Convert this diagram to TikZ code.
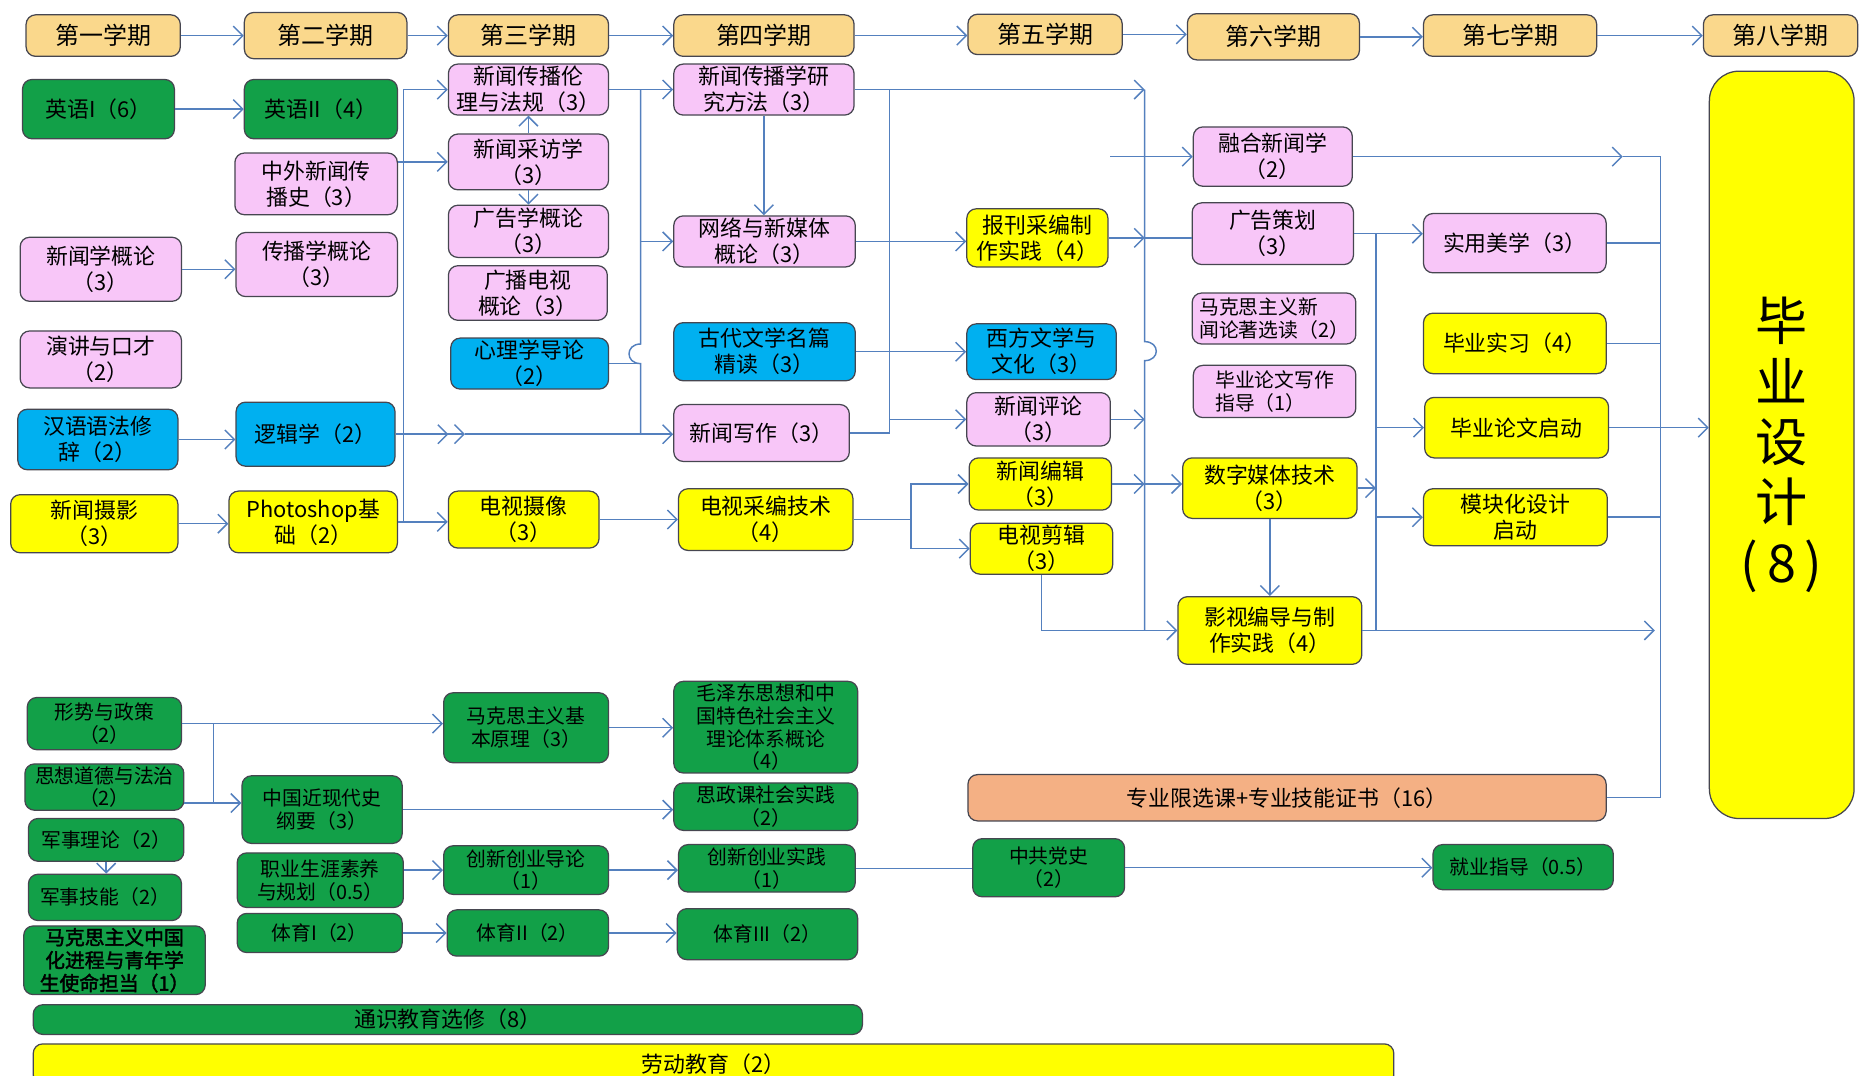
\documentclass[tikz,border=0pt]{standalone}
\usepackage{fontspec}
\setmainfont[AutoFakeBold=2]{Noto Sans CJK SC}
\usepackage{tikz}
\usetikzlibrary{arrows.meta}
\definecolor{semc}{RGB}{250,216,140}
\definecolor{pinkc}{RGB}{248,198,248}
\definecolor{greenc}{RGB}{18,160,72}
\definecolor{bluec}{RGB}{0,176,240}
\definecolor{yellowc}{RGB}{255,255,0}
\definecolor{orangec}{RGB}{244,176,132}
\definecolor{linec}{RGB}{84,128,190}
\definecolor{edgec}{RGB}{70,70,80}
\tikzset{>={Straight Barb[length=1.6mm,width=3.2mm]}}
\tikzset{
  box/.style={draw=edgec, line width=0.6pt, rounded corners=1.6mm, align=center, inner sep=1pt,
    font=\fontsize{10.5}{12.5}\selectfont},
  sem/.style={box, fill=semc, font=\fontsize{11.5}{13}\selectfont},
  pinkbox/.style={box, fill=pinkc},
  greenbox/.style={box, fill=greenc},
  bluebox/.style={box, fill=bluec},
  yellowbox/.style={box, fill=yellowc},
  orangebox/.style={box, fill=orangec},
  smalltxt/.style={font=\fontsize{9.5}{11}\selectfont},
  sz/.style 2 args={minimum width=#1*0.02cm, minimum height=#2*0.02cm},
  con/.style={draw=linec, line width=0.7pt},
}

\begin{document}
\begin{tikzpicture}[x=0.02cm, y=-0.02cm]
  \useasboundingbox (0,0) rectangle (1568,907);
  % semesters
  \node[sem, sz={130}{35}] (s1) at (87,30) {第一学期};
  \node[sem, sz={137}{39}] (s2) at (274.5,30) {第二学期};
  \node[sem, sz={135}{35}] (s3) at (445.5,30) {第三学期};
  \node[sem, sz={152}{35}] (s4) at (644,30) {第四学期};
  \node[sem, sz={130}{34}] (s5) at (881,29) {第五学期};
  \node[sem, sz={145}{39}] (s6) at (1073.5,31) {第六学期};
  \node[sem, sz={146}{35}] (s7) at (1273,30) {第七学期};
  \node[sem, sz={130}{35}] (s8) at (1501,30) {第八学期};
  \draw[->, con] (s1.east) -- (s1.east -| s2.west);
  \draw[->, con] (s2.east) -- (s2.east -| s3.west);
  \draw[->, con] (s3.east) -- (s3.east -| s4.west);
  \draw[->, con] (s4.east) -- (s4.east -| s5.west);
  \draw[->, con] (s5.east) -- (s5.east -| s6.west);
  \draw[->, con] (s6.east) -- (s6.east -| s7.west);
  \draw[->, con] (s7.east) -- (s7.east -| s8.west);

  % first and second term
  \node[greenbox, sz={128}{50}] (yy1) at (83,92) {英语I（6）};
  \node[pinkbox, sz={136}{54}] (xwgl) at (85,227) {新闻学概论\\（3）};
  \node[pinkbox, sz={136}{48}] (yjkc) at (85,303) {演讲与口才\\（2）};
  \node[bluebox, sz={135}{51}] (hyyf) at (82.5,370.5) {汉语语法修\\辞（2）};
  \node[yellowbox, sz={141}{49}] (xwsy) at (79.5,441.5) {新闻摄影\\（3）};
  \node[greenbox, sz={129}{50}] (yy2) at (270.5,92) {英语II（4）};
  \node[pinkbox, sz={137}{52}] (zwxw) at (266.5,155) {中外新闻传\\播史（3）};
  \node[pinkbox, sz={136}{54}] (cbgl) at (267,223) {传播学概论\\（3）};
  \node[bluebox, sz={134}{54}] (ljx) at (266,366) {逻辑学（2）};
  \node[yellowbox, sz={142}{52}] (ps) at (264,440) {Photoshop基\\础（2）};

  % third term
  \node[pinkbox, sz={135}{43}] (llfg) at (445.5,75.5) {新闻传播伦\\理与法规（3）};
  \node[pinkbox, sz={135}{47}] (cfx) at (445.5,136.5) {新闻采访学\\（3）};
  \node[pinkbox, sz={135}{44}] (ggx) at (445.5,195) {广告学概论\\（3）};
  \node[pinkbox, sz={134}{46}] (gbds) at (445,247) {广播电视\\概论（3）};
  \node[bluebox, sz={133}{43}] (xlx) at (446.5,306.5) {心理学导论\\（2）};
  \node[yellowbox, sz={127}{48}] (dssx) at (441.5,438) {电视摄像\\（3）};

  % fourth term
  \node[pinkbox, sz={152}{43}] (yjff) at (644,75.5) {新闻传播学研\\究方法（3）};
  \node[pinkbox, sz={153}{43}] (wlxmt) at (644.5,203.5) {网络与新媒体\\概论（3）};
  \node[bluebox, sz={153}{49}] (gdwx) at (644.5,296.5) {古代文学名篇\\精读（3）};
  \node[pinkbox, sz={148}{48}] (xwxz) at (642,365) {新闻写作（3）};
  \node[yellowbox, sz={147}{52}] (dscb) at (645.5,438) {电视采编技术\\（4）};

  % fifth term
  \node[yellowbox, sz={119}{49}] (bkcb) at (874.5,200.5) {报刊采编制\\作实践（4）};
  \node[bluebox, sz={126}{47}] (xfwx) at (878,296.5) {西方文学与\\文化（3）};
  \node[pinkbox, sz={121}{45}] (xwpl) at (875.5,353.5) {新闻评论\\（3）};
  \node[yellowbox, sz={120}{44}] (xwbj) at (877,408) {新闻编辑\\（3）};
  \node[yellowbox, sz={120}{43}] (dsjj) at (878,462.5) {电视剪辑\\（3）};

  % sixth term
  \node[pinkbox, sz={134}{50}] (rhxw) at (1073,132) {融合新闻学\\（2）};
  \node[pinkbox, sz={136}{52}] (ggch) at (1073,197) {广告策划\\（3）};
  \node[pinkbox, smalltxt, align=left, sz={138}{43}] (mksxw) at (1074,268.5) {马克思主义新\\闻论著选读（2）};
  \node[pinkbox, smalltxt, align=left, sz={137}{44}] (bylw) at (1074.5,330) {毕业论文写作\\指导（1）};
  \node[yellowbox, sz={147}{51}] (szmt) at (1070.5,411.5) {数字媒体技术\\（3）};
  \node[yellowbox, sz={155}{57}] (ysbd) at (1070.5,531.5) {影视编导与制\\作实践（4）};

  % seventh and eighth term
  \node[pinkbox, sz={154}{50}] (symx) at (1277,205) {实用美学（3）};
  \node[yellowbox, sz={154}{51}] (bysx) at (1277,289.5) {毕业实习（4）};
  \node[yellowbox, sz={155}{51}] (lwqd) at (1278.5,360.5) {毕业论文启动};
  \node[yellowbox, sz={155}{48}] (mkh) at (1277.5,436) {模块化设计\\启动};
  \node[yellowbox, sz={122}{630}, rounded corners=5mm, font=\fontsize{25}{29}\selectfont] (bysj) at (1502,375) {毕\\业\\设\\计\\(\,8\,)};
  \node[orangebox, sz={538}{39}] (zyxx) at (1085,672.5) {专业限选课+专业技能证书（16）};

  % connectors, upper part
  \draw[->, con] (yy1.east) -- (yy1.east -| yy2.west);
  \draw[->, con] (xwgl.east) -- (xwgl.east -| cbgl.west);
  \draw[->, con] (hyyf.east) -- (hyyf.east -| ljx.west);
  \draw[->, con] (xwsy.east) -- (xwsy.east -| ps.west);
  \coordinate (b1t) at (340,75.5);
  \coordinate (b1b) at (340,440);
  \draw[con] (b1t) -- (b1b);
  \draw[->, con] (b1t) -- (b1t -| llfg.west);
  \draw[->, con] (zwxw.east |- cfx.west) -- (cfx.west);
  \draw[->, con] (ps.east) -- (ps.east -| dssx.west);
  \draw[->, con] (dssx.east) -- (dssx.east -| dscb.west);
  \coordinate (dbl) at (392,366);
  \draw[con, -{Straight Barb[length=1.6mm,width=3.2mm,sep=0.9mm]Straight Barb[length=1.6mm,width=3.2mm]}] (ljx.east) -- (dbl);
  \draw[->, con] (dbl) -- (dbl -| xwxz.west);
  \draw[->, con] (cfx.north) -- (llfg.south);
  \draw[->, con] (cfx.south) -- (ggx.north);

  \coordinate (b2t) at (540,75.5);
  \coordinate (b2h1) at (540,290);
  \coordinate (b2h2) at (540,306.5);
  \coordinate (b2b) at (540,366);
  \draw[->, con] (llfg.east) -- (llfg.east -| yjff.west);
  \draw[con] (b2t) -- (b2h1) .. controls (527,290) and (527,306.5) .. (b2h2) -- (b2b);
  \draw[->, con] (b2t |- wlxmt.west) -- (wlxmt.west);
  \draw[con] (xlx.east) -- (xlx.east -| b2t);
  \draw[->, con] (yjff.south) -- (yjff.south |- wlxmt.north);

  \coordinate (b3t) at (750,75.5);
  \coordinate (b3b) at (750,365);
  \draw[con] (b3t) -- (b3b);
  \draw[->, con] (wlxmt.east) -- (wlxmt.east -| bkcb.west);
  \draw[->, con] (gdwx.east) -- (gdwx.east -| xfwx.west);
  \draw[con] (xwxz.east) -- (b3b);
  \draw[->, con] (b3t |- xwpl.west) -- (xwpl.west);
  \coordinate (sp) at (768,438);
  \draw[con] (dscb.east) -- (sp);
  \draw[->, con] (sp) |- (xwbj.west);
  \draw[->, con] (sp) |- (dsjj.west);
  \draw[->, con] (dsjj.south) |- (ysbd.west);

  \coordinate (b4t) at (965,75.5);
  \coordinate (b4h1) at (965,288);
  \coordinate (b4h2) at (965,304);
  \coordinate (b4b) at (965,531.5);
  \draw[->, con] (yjff.east) -- (b4t);
  \draw[con] (b4t) -- (b4h1) .. controls (978,288) and (978,304) .. (b4h2) -- (b4b);
  \draw[->, con] (bkcb.east) -- (bkcb.east -| b4t);
  \draw[con] (bkcb.east -| b4t) -- (bkcb.east -| ggch.west);
  \coordinate (rh0) at (936,132);
  \draw[->, con] (rh0) -- (rhxw.west);
  \draw[->, con] (xwpl.east) -- (xwpl.east -| b4t);
  \draw[->, con] (xwbj.east) -- (xwbj.east -| b4t);
  \draw[->, con] (xwbj.east -| b4t) -- (xwbj.east -| szmt.west);
  \draw[->, con] (szmt.south) -- (szmt.south |- ysbd.north);

  \coordinate (b5t) at (1160,197);
  \coordinate (b5b) at (1160,531.5);
  \draw[con] (b5t) -- (b5b);
  \draw[->, con] (ggch.east) -- (ggch.east -| symx.west);
  \draw[->, con] (szmt.east) -- (szmt.east -| b5t);
  \draw[->, con] (b5t |- lwqd.west) -- (lwqd.west);
  \draw[->, con] (b5t |- mkh.west) -- (mkh.west);
  \coordinate (ys1) at (1395,531.5);
  \draw[->, con] (ysbd.east) -- (ys1);

  \coordinate (b6t) at (1400,132);
  \coordinate (b6b) at (1400,672.5);
  \coordinate (rh1) at (1368,132);
  \draw[con] (b6t) -- (b6b);
  \draw[->, con] (rhxw.east) -- (rh1);
  \draw[con] (rh1) -- (b6t);
  \draw[con] (symx.east) -- (symx.east -| b6t);
  \draw[con] (bysx.east) -- (bysx.east -| b6t);
  \draw[->, con] (lwqd.east) -- (lwqd.east -| bysj.west);
  \draw[con] (mkh.east) -- (mkh.east -| b6t);
  \draw[con] (zyxx.east) -- (b6b);

  % public courses
  \node[greenbox, smalltxt, sz={130}{44}] (xsyzc) at (88,610) {形势与政策\\（2）};
  \node[greenbox, smalltxt, sz={134}{39}] (sxdd) at (88,663.5) {思想道德与法治\\（2）};
  \node[greenbox, smalltxt, sz={131}{36}] (jsll) at (89.5,708) {军事理论（2）};
  \node[greenbox, smalltxt, sz={129}{39}] (jsjn) at (88.5,756.5) {军事技能（2）};
  \node[greenbox, smalltxt, font=\fontsize{9.5}{11}\selectfont\bfseries, sz={153}{57}] (mkszgh) at (96.5,809.5) {马克思主义中国\\化进程与青年学\\生使命担当（1）};
  \node[greenbox, smalltxt, sz={135}{57}] (zgjxds) at (271.5,682.5) {中国近现代史\\纲要（3）};
  \node[greenbox, smalltxt, sz={140}{46}] (zysy) at (270,742) {职业生涯素养\\与规划（0.5）};
  \node[greenbox, smalltxt, sz={139}{33}] (ty1) at (269.5,786.5) {体育I（2）};
  \node[greenbox, smalltxt, sz={139}{59}] (mksjb) at (443.5,613.5) {马克思主义基\\本原理（3）};
  \node[greenbox, smalltxt, sz={139}{41}] (cxdl) at (443.5,733.5) {创新创业导论\\（1）};
  \node[greenbox, smalltxt, sz={136}{39}] (ty2) at (445,786.5) {体育II（2）};
  \node[greenbox, smalltxt, sz={155}{76}] (mzd) at (645.5,613) {毛泽东思想和中\\国特色社会主义\\理论体系概论\\（4）};
  \node[greenbox, smalltxt, sz={155}{40}] (szsj) at (645.5,680) {思政课社会实践\\（2）};
  \node[greenbox, smalltxt, sz={149}{40}] (cxsj) at (646.5,732) {创新创业实践\\（1）};
  \node[greenbox, smalltxt, sz={152}{43}] (ty3) at (647,787.5) {体育III（2）};
  \node[greenbox, smalltxt, sz={128}{49}] (zgdx) at (884,731.5) {中共党史\\（2）};
  \node[greenbox, smalltxt, sz={152}{38}] (jyzd) at (1284,731) {就业指导（0.5）};
  \node[greenbox, sz={699}{25}] (tsjy) at (377.5,859.5) {通识教育选修（8）};
  \node[yellowbox, sz={1147}{34}] (ldjy) at (601.5,897) {劳动教育（2）};

  \coordinate (b7t) at (180,610);
  \coordinate (b7b) at (180,677);
  \draw[->, con] (xsyzc.east) -- (xsyzc.east -| mksjb.west);
  \draw[con] (b7t) -- (b7b);
  \draw[->, con] (sxdd.east |- b7b) -- (b7b -| zgjxds.west);
  \draw[->, con] (jsll.south) -- (jsll.south |- jsjn.north);
  \draw[->, con] (mksjb.east) -- (mksjb.east -| mzd.west);
  \draw[->, con] (zgjxds.east) -- (zgjxds.east -| szsj.west);
  \draw[->, con] (zysy.east |- cxdl.west) -- (cxdl.west);
  \draw[->, con] (cxdl.east) -- (cxdl.east -| cxsj.west);
  \draw[con] (cxsj.east) -- (cxsj.east -| zgdx.west);
  \draw[->, con] (zgdx.east) -- (zgdx.east -| jyzd.west);
  \draw[->, con] (ty1.east) -- (ty1.east -| ty2.west);
  \draw[->, con] (ty2.east) -- (ty2.east -| ty3.west);
\end{tikzpicture}
\end{document}
